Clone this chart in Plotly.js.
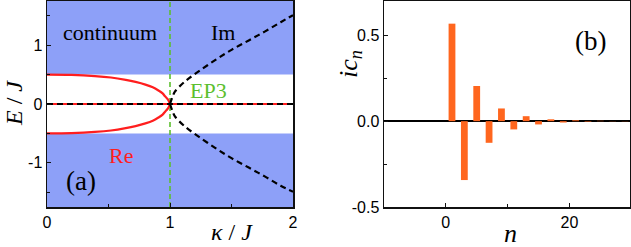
<!DOCTYPE html>
<html>
<head>
<meta charset="utf-8">
<script src="https://cdn.plot.ly/plotly-3.0.1.min.js"></script>
<style>html,body{margin:0;padding:0;background:#fff;}#chart{width:631px;height:247px;}</style>
</head>
<body>
<div id="chart"></div>
<script>
// ---- Panel (a) data ----
const reKappa   = [0, 0.2, 0.39, 0.52, 0.64, 0.72, 0.80, 0.86, 0.906, 0.94, 0.96, 0.98, 0.99, 1.0];
const reUpper   = [0.5, 0.495, 0.475, 0.45, 0.41, 0.375, 0.33, 0.285, 0.23, 0.18, 0.13, 0.085, 0.05, 0];
const reLower   = [-0.5, -0.495, -0.475, -0.45, -0.41, -0.375, -0.33, -0.285, -0.23, -0.18, -0.13, -0.085, -0.05, 0];
const imKappa   = [1.0, 1.02, 1.04, 1.12, 1.23, 1.37, 1.50, 1.64, 1.77, 1.90, 2.0];
const imUpper   = [0, 0.12, 0.21, 0.38, 0.55, 0.75, 0.92, 1.08, 1.23, 1.39, 1.51];
const imLower   = [0, -0.12, -0.21, -0.38, -0.55, -0.75, -0.92, -1.08, -1.23, -1.39, -1.49];
const zeroKappa = [0, 2];
const zeroE     = [0, 0];
const epKappa   = [1, 1];
const epE       = [-1.75, 1.75];
const bandEdge  = 0.5;   // continuum edge |E| = 0.5

// ---- Panel (b) data ----
const nVals  = [1, 3, 5, 7, 9, 11, 13, 15, 17, 19, 21, 23, 25, 27, 29];
const icVals = [0.568, -0.343, 0.205, -0.126, 0.074, -0.048, 0.029, -0.019, 0.011, -0.008, 0.005, -0.003, 0.002, -0.001, 0.001];

// tick labels
const xTicksA = [0, 1, 2];
const yTicksA = [-1, 0, 1];
const xTicksB = [0, 20];
const yTicksB = [-0.5, 0.0, 0.5];
const yTickTextB = ['-0.5', '0.0', '0.5'];

const W = 631, H = 247;
const px = v => v / W;
const py = v => 1 - v / H;

const BLUE = 'rgb(141,160,248)';
const RED = '#ff1e1e';
const GREEN = '#5cbf2e';
const ORANGE = '#ff661e';

const traces = [
  {x: epKappa, y: epE, mode: 'lines', line: {color: GREEN, width: 1.6, dash: '5px,3px'}, xaxis: 'x', yaxis: 'y'},
  {x: reKappa, y: reUpper, mode: 'lines', line: {color: RED, width: 2.2, shape: 'spline'}, xaxis: 'x', yaxis: 'y'},
  {x: reKappa, y: reLower, mode: 'lines', line: {color: RED, width: 2.2, shape: 'spline'}, xaxis: 'x', yaxis: 'y'},
  {x: zeroKappa, y: zeroE, mode: 'lines', line: {color: RED, width: 2.2}, xaxis: 'x', yaxis: 'y'},
  {x: zeroKappa, y: zeroE, mode: 'lines', line: {color: '#000', width: 2.2, dash: '6px,4px'}, xaxis: 'x', yaxis: 'y'},
  {x: imKappa, y: imUpper, mode: 'lines', line: {color: '#000', width: 2.2, dash: '6px,4px', shape: 'spline'}, xaxis: 'x', yaxis: 'y'},
  {x: imKappa, y: imLower, mode: 'lines', line: {color: '#000', width: 2.2, dash: '6px,4px', shape: 'spline'}, xaxis: 'x', yaxis: 'y'},
  {type: 'bar', x: nVals, y: icVals, width: 1.1, marker: {color: ORANGE, line: {width: 0}}, xaxis: 'x2', yaxis: 'y2'}
];

const tickFont = {family: "'Liberation Sans', Arial, sans-serif", size: 16, color: '#000'};
const serif = "'Liberation Serif', 'Times New Roman', serif";

const axisCommon = {
  showline: true, linecolor: '#111', linewidth: 1.5, mirror: true,
  ticks: 'inside', ticklen: 4, tickwidth: 1, tickcolor: '#111',
  showgrid: false, zeroline: false, tickfont: tickFont, fixedrange: true
};

const layout = {
  width: W, height: H,
  margin: {l: 0, r: 0, t: 0, b: 0},
  paper_bgcolor: '#fff', plot_bgcolor: '#fff',
  showlegend: false,
  xaxis: Object.assign({}, axisCommon, {
    domain: [px(47), px(293)], range: [0, 2], anchor: 'y',
    tickvals: xTicksA, ticktext: xTicksA.map(String),
    minor: {tickvals: [0.5, 1.5], ticks: 'inside', ticklen: 3, tickcolor: '#111'}
  }),
  yaxis: Object.assign({}, axisCommon, {
    domain: [1 - 207 / H, 1 - 1 / H], range: [-1.75, 1.75], anchor: 'x',
    tickvals: yTicksA, ticktext: yTicksA.map(String),
    minor: {tickvals: [-1.5, -0.5, 0.5, 1.5], ticks: 'inside', ticklen: 3, tickcolor: '#111'}
  }),
  xaxis2: Object.assign({}, axisCommon, {
    domain: [px(384), px(630)], range: [-10, 29.8], anchor: 'y2',
    tickvals: xTicksB, ticktext: xTicksB.map(String),
    minor: {tickvals: [10], ticks: 'inside', ticklen: 3, tickcolor: '#111'}
  }),
  yaxis2: Object.assign({}, axisCommon, {
    domain: [1 - 207 / H, 1 - 1 / H], range: [-0.5, 0.7], anchor: 'x2',
    tickvals: yTicksB, ticktext: yTickTextB,
    zeroline: true, zerolinecolor: '#000', zerolinewidth: 1.5,
    minor: {tickvals: [-0.25, 0.25], ticks: 'inside', ticklen: 3, tickcolor: '#111'}
  }),
  shapes: [
    {type: 'rect', xref: 'x', yref: 'y', x0: 0, x1: 2, y0: bandEdge, y1: 1.75, fillcolor: BLUE, line: {width: 0}, layer: 'below'},
    {type: 'rect', xref: 'x', yref: 'y', x0: 0, x1: 2, y0: -1.75, y1: -bandEdge, fillcolor: BLUE, line: {width: 0}, layer: 'below'}
  ],
  annotations: [
    {text: 'continuum', x: px(110), y: py(32), font: {family: serif, size: 22, color: '#000'}},
    {text: 'Im', x: px(223), y: py(32), font: {family: serif, size: 22, color: '#000'}},
    {text: 'EP3', x: px(208), y: py(90), font: {family: serif, size: 22, color: GREEN}},
    {text: 'Re', x: px(121), y: py(155), font: {family: serif, size: 22, color: RED}},
    {text: '(a)', x: px(81), y: py(181), font: {family: serif, size: 27, color: '#000'}},
    {text: '(b)', x: px(590), y: py(41), font: {family: serif, size: 27, color: '#000'}},
    {text: '<i>κ</i> / <i>J</i>', x: px(232), y: py(232), font: {family: serif, size: 24, color: '#000'}},
    {text: '<i>E</i> / <i>J</i>', x: px(14), y: py(103), textangle: -90, font: {family: serif, size: 24, color: '#000'}},
    {text: '<i>ic<sub>n</sub></i>', x: px(350), y: py(64), textangle: -90, font: {family: serif, size: 26, color: '#000'}},
    {text: '<i>n</i>', x: px(510), y: py(233), font: {family: serif, size: 26, color: '#000'}}
  ].map(a => Object.assign({xref: 'paper', yref: 'paper', xanchor: 'center', yanchor: 'middle', showarrow: false}, a))
};

Plotly.newPlot('chart', traces, layout, {staticPlot: true, displayModeBar: false});
</script>
</body>
</html>
